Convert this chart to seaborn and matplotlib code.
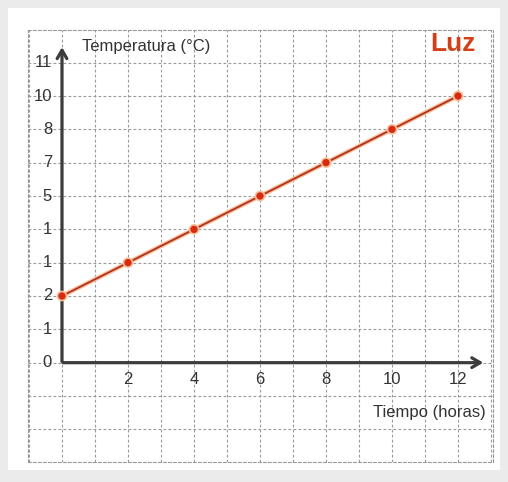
"""Temperatura vs tiempo - grafico de cuadricula"""
import matplotlib
matplotlib.use("Agg")
import matplotlib.pyplot as plt
import matplotlib.patheffects as pe
from matplotlib.patches import Rectangle
import seaborn as sns
import pandas as pd

# data (temperature given as grid row)
hours = [0, 2, 4, 6, 8, 10, 12]
temp_rows = [2, 3, 4, 5, 6, 7, 8]
y_tick_labels = ['0', '1', '2', '1', '1', '5', '7', '8', '10', '11']
x_tick_labels = ['2', '4', '6', '8', '10', '12']

sns.set_style("white")
plt.rcParams['font.family'] = ['Liberation Sans', 'DejaVu Sans']

df = pd.DataFrame({'Tiempo': hours, 'Temperatura': temp_rows})

fig = plt.figure(figsize=(5.08, 4.82), dpi=100, facecolor='#ebebeb')
fig.patches.append(Rectangle((8 / 508, 12 / 482), 492 / 508, 462 / 482,
                             transform=fig.transFigure, facecolor='white',
                             edgecolor='none', zorder=-5))
ax = fig.add_axes([28 / 508, 20 / 482, 465 / 508, 432 / 482])
ax.set_zorder(2)
ax.set_facecolor('white')

ax.set_xlim(-1.03, 13.06)
ax.set_ylim(-2.98, 9.98)
ax.set_xticks(range(-1, 14))
ax.set_yticks(range(-2, 10))
ax.set_xticklabels([])
ax.set_yticklabels([])
ax.tick_params(length=0)
ax.grid(True, color='#999999', linestyle=(0, (2.5, 2)), linewidth=0.8)
for s in ax.spines.values():
    s.set_color('#999999')
    s.set_linestyle((0, (2.5, 2)))
    s.set_linewidth(0.8)

# axes with arrows
ax.annotate('', xy=(12.85, 0), xytext=(-0.05, 0),
            arrowprops=dict(arrowstyle='->,head_length=0.6,head_width=0.35',
                            color='#3c3c3c', lw=2.3))
ax.annotate('', xy=(0, 9.55), xytext=(0, -0.05),
            arrowprops=dict(arrowstyle='->,head_length=0.6,head_width=0.35',
                            color='#3c3c3c', lw=2.3))

sns.lineplot(data=df, x='Tiempo', y='Temperatura', ax=ax, color='#b3301c',
             linewidth=1.3, marker='o', markersize=4.5,
             markerfacecolor='#d82a10', markeredgecolor='#d82a10', zorder=5,
             path_effects=[pe.Stroke(linewidth=3.2, foreground='#f7c09a'), pe.Normal()])
ax.set_xlabel('')
ax.set_ylabel('')

for i, lab in enumerate(y_tick_labels):
    ax.text(-0.3, i, lab, ha='right', va='center', fontsize=12, color='#333333')
for xv, lab in zip(hours[1:], x_tick_labels):
    ax.text(xv, -0.5, lab, ha='center', va='center', fontsize=12, color='#333333')

ax.text(0.6, 9.5, 'Temperatura (°C)', ha='left', va='center', fontsize=12,
        color='#333333')
ax.text(12.85, -1.5, 'Tiempo (horas)', ha='right', va='center', fontsize=12,
        color='#333333')
ax.text(11.15, 9.55, 'Luz', ha='left', va='center', fontsize=19,
        color='#d2401a', fontweight='bold')

fig.savefig('out.png', dpi=100, facecolor=fig.get_facecolor())
